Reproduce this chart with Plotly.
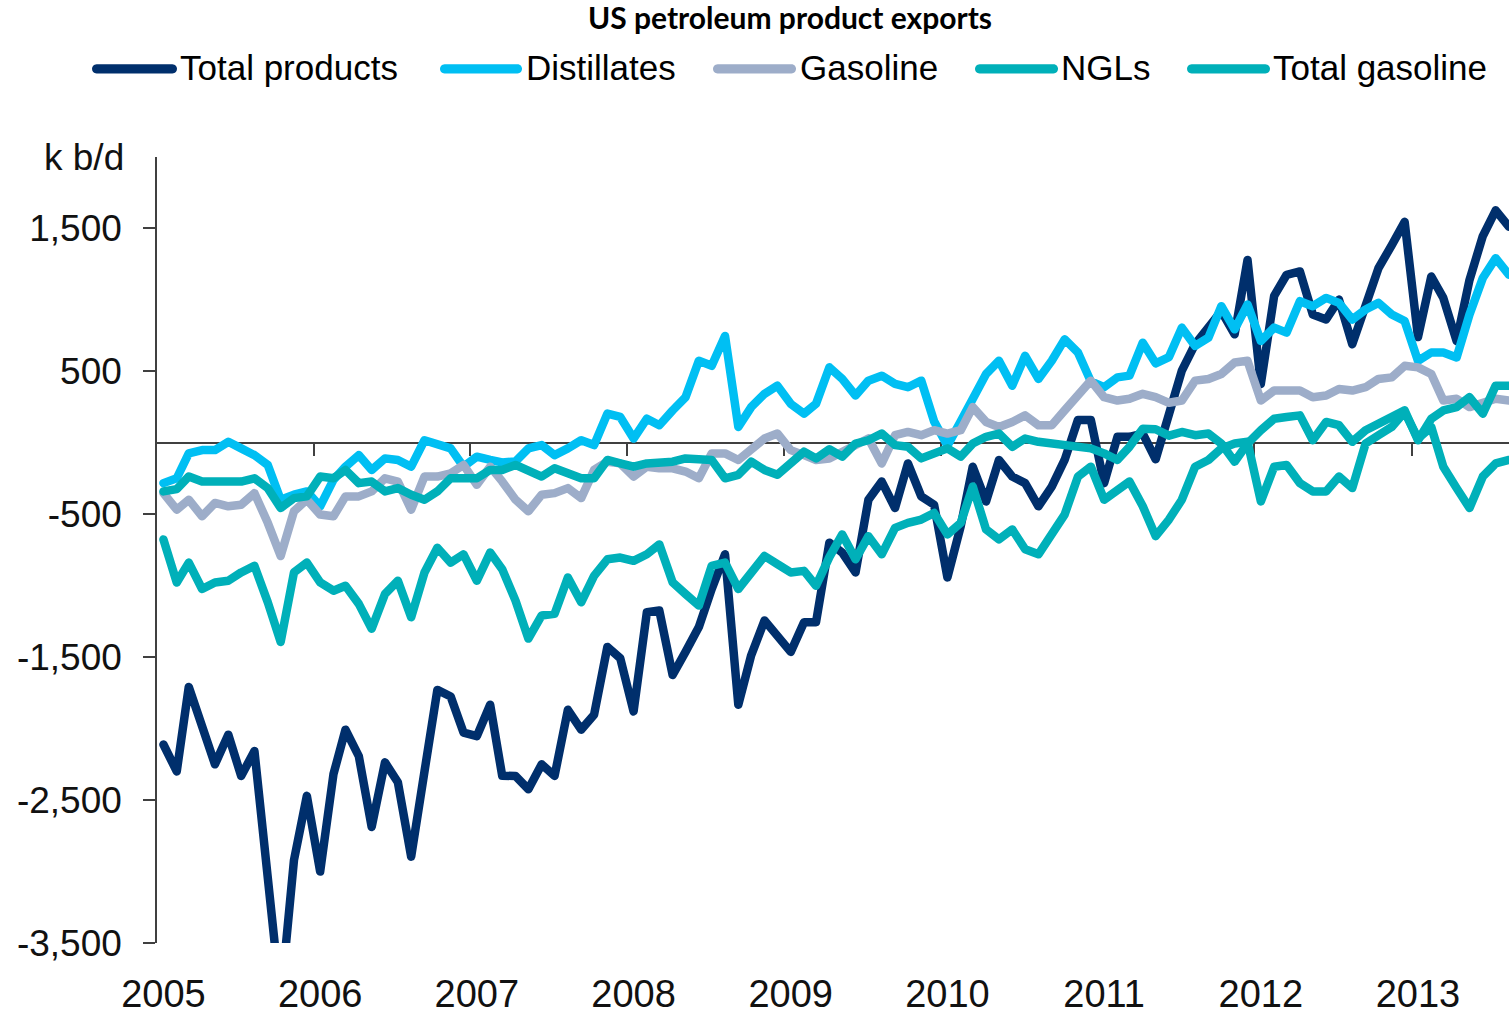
import pandas as pd
import plotly.graph_objects as go

# ---------------- data (k b/d, monthly net exports, Jan 2005 - Aug 2013) ----------------
months = pd.date_range("2005-01-01", periods=104, freq="MS") + pd.Timedelta(days=15)

total_products = [
    -2111, -2299, -1708, -1977, -2250, -2042, -2331, -2157, -3150, -3900, -2921, -2470,
    -3000, -2319, -2007, -2192, -2688, -2236, -2375, -2896, -2300, -1729, -1775, -2028,
    -2053, -1833, -2330, -2331, -2424, -2250, -2331, -1868, -2007, -1903, -1428, -1507,
    -1880, -1185, -1174, -1625, -1463, -1289, -1023, -780, -1833, -1486, -1243, -1347,
    -1463, -1255, -1255, -699, -769, -907, -398, -271, -456, -144, -375, -433,
    -942, -583, -167, -410, -120, -236, -282, -444, -306, -120, 160, 160,
    -282, 42, 42, 65, -115, 200, 505, 690, 806, 921, 759, 1280,
    412, 1028, 1176, 1199, 898, 863, 1002, 690, 960, 1222, 1384, 1546,
    740, 1164, 1014, 713, 1140, 1447, 1627, 1512,
]

distillates = [
    -282, -248, -74, -51, -51, 7, -39, -86, -155, -398, -363, -340,
    -444, -259, -167, -86, -190, -109, -120, -167, 18, -16, -39, -167,
    -97, -120, -137, -130, -39, -16, -86, -39, 18, -16, 204, 181,
    30, 169, 123, 227, 319, 574, 539, 748, 111, 250, 343, 400,
    273, 204, 273, 528, 447, 331, 435, 470, 412, 389, 435, 150,
    -20, 150, 296, 481, 574, 400, 609, 447, 574, 724, 632, 430,
    390, 458, 470, 701, 556, 600, 806, 678, 736, 956, 794, 968,
    713, 806, 771, 991, 956, 1014, 979, 863, 933, 979, 898, 852,
    574, 632, 632, 597, 898, 1153, 1292, 1176,
]

gasoline = [
    -352, -468, -398, -514, -421, -444, -433, -352, -560, -792, -479, -398,
    -502, -514, -375, -375, -340, -248, -271, -468, -236, -236, -213, -155,
    -294, -167, -270, -398, -479, -363, -352, -317, -387, -190, -132, -144,
    -236, -167, -178, -178, -201, -248, -74, -74, -120, -51, 30, 65,
    -51, -86, -120, -110, -62, -16, 30, -144, 53, 76, 53, 88,
    65, 88, 250, 146, 111, 146, 192, 123, 123, 227, 331, 435,
    319, 296, 308, 343, 320, 280, 296, 435, 447, 481, 562, 574,
    296, 366, 366, 366, 319, 331, 377, 366, 389, 447, 458, 539,
    528, 481, 296, 308, 250, 273, 308, 296,
]

ngls = [
    -340, -324, -236, -271, -271, -271, -271, -248, -317, -456, -387, -375,
    -236, -248, -190, -282, -271, -340, -317, -363, -398, -340, -248, -248,
    -248, -190, -190, -155, -194, -236, -178, -213, -248, -248, -120, -144,
    -167, -144, -144, -132, -109, -109, -120, -248, -224, -132, -190, -224,
    -144, -62, -109, -45, -97, -5, 18, 65, -16, -28, -109, -74,
    -39, -97, -5, 42, 65, -28, 30, 7, -5, -16, -28, -39,
    -74, -120, -28, 99, 95, 50, 76, 53, 65, -5, -132, -5,
    88, 169, 181, 192, 18, 146, 123, 7, 88, 134, 192, 227,
    18, 169, 227, 250, 319, 204, 400, 400,
]

total_gasoline = [
    -676, -977, -838, -1023, -977, -965, -907, -861, -1116, -1394, -907, -838,
    -977, -1035, -1000, -1127, -1301, -1058, -965, -1220, -907, -734, -838, -780,
    -965, -768, -884, -1104, -1370, -1208, -1197, -942, -1116, -931, -815, -803,
    -826, -780, -711, -977, -1058, -1139, -861, -838, -1023, -907, -792, -849,
    -907, -896, -1000, -800, -641, -815, -653, -780, -595, -560, -537, -491,
    -641, -560, -306, -606, -676, -606, -745, -780, -630, -502, -236, -167,
    -398, -340, -271, -444, -653, -537, -398, -167, -120, -39, -5, 7,
    -410, -167, -155, -282, -340, -340, -236, -317, -5, 53, 111, 215,
    30, 111, -167, -317, -456, -236, -144, -120,
]

series_names = ["Total products", "Distillates", "Gasoline", "NGLs", "Total gasoline"]
series_values = [total_products, distillates, gasoline, ngls, total_gasoline]
series_colors = ["#002F6C", "#00BFF3", "#9DADC9", "#00B0B9", "#00B0B9"]

year_ticks = list(range(2005, 2014))
year_labels = [str(y) for y in year_ticks]
y_tick_vals = [-3500, -2500, -1500, -500, 500, 1500]
y_tick_text = ["-3,500", "-2,500", "-1,500", "-500", "500", "1,500"]

# ---------------- layout geometry ----------------
W, H = 1509, 1015
ML, MR, MT, MB = 157, 0, 157, 65
PW, PH = W - ML - MR, H - MT - MB
X_RANGE = ["2005-01-01", "2013-08-16"]
Y_RANGE = [-3500, 2000]
FONT = "Liberation Sans, Arial, sans-serif"
AXIS_COLOR = "#404040"


def px2paper(px):
    return (px - ML) / PW


def py2paper(py):
    return (H - MB - py) / PH


fig = go.Figure()

# empty trace so that the zero-line axis (x2) is drawn
fig.add_trace(go.Scatter(x=[], y=[], xaxis="x2", yaxis="y", showlegend=False,
                         hoverinfo="skip", mode="lines"))

for name, vals, col in zip(series_names, series_values, series_colors):
    fig.add_trace(go.Scatter(
        x=months, y=vals, name=name, mode="lines",
        line=dict(color=col, width=8.5),
        showlegend=False, hoverinfo="x+y+name",
    ))

# manual legend (long rounded line symbols like the original)
legend_slots = [(92, 177, 180), (440, 522, 526), (713, 796, 800), (975, 1058, 1061), (1187, 1270, 1273)]
LEG_Y = 68
shapes = []
annotations = []
r = 4.6
k = 4.0 / 3.0 * r
for (x0, x1, xt), name, col in zip(legend_slots, series_names, series_colors):
    L = x1 - x0
    path = (f"M{r},{r} L{L - r},{r} C{L - r + k},{r} {L - r + k},{-r} {L - r},{-r} "
            f"L{r},{-r} C{r - k},{-r} {r - k},{r} {r},{r} Z")
    shapes.append(dict(type="path", xref="paper", yref="paper",
                       xsizemode="pixel", ysizemode="pixel",
                       xanchor=px2paper(x0), yanchor=py2paper(LEG_Y),
                       path=path, fillcolor=col, line=dict(width=0)))
    annotations.append(dict(text=name, xref="paper", yref="paper",
                            x=px2paper(xt - 2), y=py2paper(LEG_Y - 1),
                            xanchor="left", yanchor="middle", showarrow=False,
                            font=dict(family=FONT, size=35, color="#000000")))

annotations.append(dict(text="k b/d", xref="paper", yref="paper",
                        x=px2paper(126), y=py2paper(157), xanchor="right", yanchor="middle",
                        showarrow=False, font=dict(family=FONT, size=37, color="#111111")))

fig.update_layout(
    width=W, height=H,
    margin=dict(l=ML, r=MR, t=MT, b=MB, pad=0),
    paper_bgcolor="white", plot_bgcolor="white",
    showlegend=False,
    title=dict(text="<b>US petroleum product exports</b>",
               x=790 / W, xref="container", xanchor="center",
               y=1 - 18 / H, yref="container", yanchor="middle",
               font=dict(family="Lato, Carlito, sans-serif", size=30, color="#000000")),
    xaxis=dict(type="date", range=X_RANGE, showgrid=False, zeroline=False,
               showline=False, ticks="",
               tickvals=[f"{y}-01-16" for y in year_ticks], ticktext=year_labels,
               tickfont=dict(family=FONT, size=38, color="#111111"),
               ticklabelstandoff=25),
    xaxis2=dict(type="date", range=X_RANGE, overlaying="x", anchor="free",
                position=(0 - Y_RANGE[0]) / (Y_RANGE[1] - Y_RANGE[0]), side="bottom",
                showgrid=False, zeroline=False, showline=True,
                linecolor=AXIS_COLOR, linewidth=1.5, layer="below traces",
                ticks="outside", ticklen=12, tickwidth=1.5, tickcolor=AXIS_COLOR,
                tickvals=[f"{y}-01-01" for y in year_ticks[1:]],
                showticklabels=False),
    yaxis=dict(range=Y_RANGE, showgrid=False, zeroline=False,
               showline=True, linecolor=AXIS_COLOR, linewidth=1.5,
               ticks="outside", ticklen=12, tickwidth=1.5, tickcolor=AXIS_COLOR,
               tickvals=y_tick_vals, ticktext=y_tick_text,
               tickfont=dict(family=FONT, size=37, color="#111111"),
               ticklabelstandoff=14),
    shapes=shapes,
    annotations=annotations,
)

fig.write_html(
    "out.html",
    config={"displayModeBar": False},
    post_script=(
        "document.body.style.margin='0';"
        "function fixJoins(){document.querySelectorAll('.js-line').forEach(function(e){"
        "e.style.strokeLinejoin='round';e.style.strokeLinecap='round';});}"
        "fixJoins();setTimeout(fixJoins,50);"
    ),
)
